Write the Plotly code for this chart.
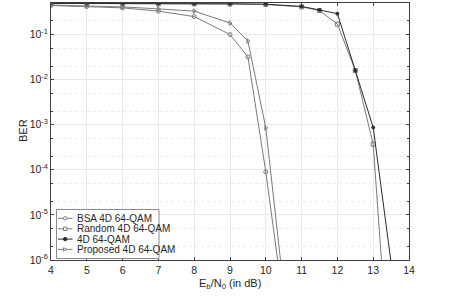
import plotly.graph_objects as go

# left group
snr_left = [4, 5, 6, 7, 8, 9, 9.5, 10, 10.5]
ber_bsa = [0.44, 0.42, 0.39, 0.33, 0.25, 0.10, 0.032, 9e-5, 1e-7]
ber_prop = [0.45, 0.43, 0.41, 0.37, 0.33, 0.18, 0.072, 8.5e-4, 2.3e-7]

# right group
snr_right = [4, 5, 6, 7, 8, 9, 10, 11, 11.5, 12, 12.5, 13, 13.5]
ber_4d = [0.49, 0.49, 0.49, 0.485, 0.48, 0.48, 0.47, 0.42, 0.35, 0.29, 0.016, 8.7e-4, 8.7e-7]
ber_rand = [0.49, 0.49, 0.485, 0.48, 0.48, 0.475, 0.465, 0.41, 0.34, 0.17, 0.016, 3.7e-4, 1e-9]

labels = ["BSA 4D 64-QAM", "Random 4D 64-QAM", "4D 64-QAM", "Proposed 4D 64-QAM"]

ytickvals = [1e-6, 1e-5, 1e-4, 1e-3, 1e-2, 1e-1]
yticktext = ["10<sup>-6</sup>", "10<sup>-5</sup>", "10<sup>-4</sup>", "10<sup>-3</sup>", "10<sup>-2</sup>", "10<sup>-1</sup>"]
xtickvals = list(range(4, 15))

FONT = "Liberation Sans, Arial, Helvetica, sans-serif"
gray = "#7a7a7a"
dark = "#2b2b2b"
W, H = 449, 297
ML, MR, MT, MB = 51, 40, 3, 37
PW, PH = W - ML - MR, H - MT - MB

styles = [
    dict(color=gray, sym="circle-open", size=4),
    dict(color=gray, sym="square-open", size=4),
    dict(color=dark, sym="circle", size=3),
    dict(color=gray, sym="triangle-right-open", size=4),
]
series = [(snr_left, ber_bsa), (snr_right, ber_rand), (snr_right, ber_4d), (snr_left, ber_prop)]

fig = go.Figure()
for (xs, ys), st, name in zip(series, styles, labels):
    fig.add_trace(go.Scatter(x=xs, y=ys, name=name, mode="lines+markers", showlegend=False,
                             line=dict(color=st["color"], width=1),
                             marker=dict(symbol=st["sym"], size=st["size"], color=st["color"],
                                         line=dict(width=1, color=st["color"]))))

# manual compact legend (paper coordinates from pixel positions)
def px(x):
    return (x - ML) / PW

def py(y):
    return (H - MB - y) / PH

shapes = []
annotations = []
shapes.append(dict(type="rect", xref="paper", yref="paper",
                   x0=px(56.5), x1=px(159), y0=py(258.5), y1=py(209.5),
                   line=dict(color="#8c8c8c", width=1), fillcolor="white", layer="above"))
rows = [218.3, 228.8, 239.1, 249.4]
for st, name, yy in zip(styles, labels, rows):
    shapes.append(dict(type="line", xref="paper", yref="paper",
                       x0=px(58), x1=px(72.5), y0=py(yy), y1=py(yy),
                       line=dict(color=st["color"], width=1), layer="above"))
    cx, r = 65.2, 1.7
    if st["sym"].startswith("circle"):
        shapes.append(dict(type="circle", xref="paper", yref="paper",
                           x0=px(cx - r), x1=px(cx + r), y0=py(yy + r), y1=py(yy - r),
                           line=dict(color=st["color"], width=1),
                           fillcolor=st["color"] if st["sym"] == "circle" else "white", layer="above"))
    elif st["sym"].startswith("square"):
        shapes.append(dict(type="rect", xref="paper", yref="paper",
                           x0=px(cx - r), x1=px(cx + r), y0=py(yy + r), y1=py(yy - r),
                           line=dict(color=st["color"], width=1), fillcolor="white", layer="above"))
    else:
        path = "M {} {} L {} {} L {} {} Z".format(px(cx - r), py(yy - r), px(cx + r), py(yy),
                                                  px(cx - r), py(yy + r))
        shapes.append(dict(type="path", xref="paper", yref="paper", path=path,
                           line=dict(color=st["color"], width=1), fillcolor="white", layer="above"))
    annotations.append(dict(xref="paper", yref="paper", x=px(74.5), y=py(yy), text=name,
                            showarrow=False, xanchor="left", yanchor="middle",
                            font=dict(size=10, color="#262626", family=FONT)))

# axis titles
annotations.append(dict(xref="paper", yref="paper", x=px(230), y=py(284), text="E<sub>b</sub>/N<sub>0</sub> (in dB)",
                        showarrow=False, xanchor="center", yanchor="middle",
                        font=dict(size=11, color="#262626", family=FONT)))
annotations.append(dict(xref="paper", yref="paper", x=px(23), y=py(131), text="BER", textangle=-90,
                        showarrow=False, xanchor="center", yanchor="middle",
                        font=dict(size=11, color="#262626", family=FONT)))

fig.update_layout(
    width=W, height=H,
    margin=dict(l=ML, r=MR, t=MT, b=MB, autoexpand=False),
    paper_bgcolor="white", plot_bgcolor="white",
    font=dict(family=FONT, size=10, color="#262626"),
    showlegend=False,
    shapes=shapes, annotations=annotations,
    xaxis=dict(range=[4, 14], tickvals=xtickvals, ticks="inside", ticklen=3, tickcolor="#404040",
               showline=True, linecolor="#404040", linewidth=1, mirror="allticks",
               showgrid=True, gridcolor="#e8e8e8", zeroline=False, automargin=False,
               tickfont=dict(size=10.5)),
    yaxis=dict(type="log", range=[-6, -0.30103], tickvals=ytickvals, ticktext=yticktext,
               ticks="inside", ticklen=3, tickcolor="#404040",
               showline=True, linecolor="#404040", linewidth=1, mirror="allticks",
               showgrid=True, gridcolor="#e8e8e8", zeroline=False, automargin=False,
               tickfont=dict(size=10.5),
               minor=dict(ticks="inside", ticklen=2, showgrid=True, gridcolor="#eeeeee",
                          griddash="dot", tickcolor="#404040")),
)

fig.write_html("out.html", config={"displayModeBar": False},
               post_script="document.body.style.margin='0';document.body.style.padding='0';")
